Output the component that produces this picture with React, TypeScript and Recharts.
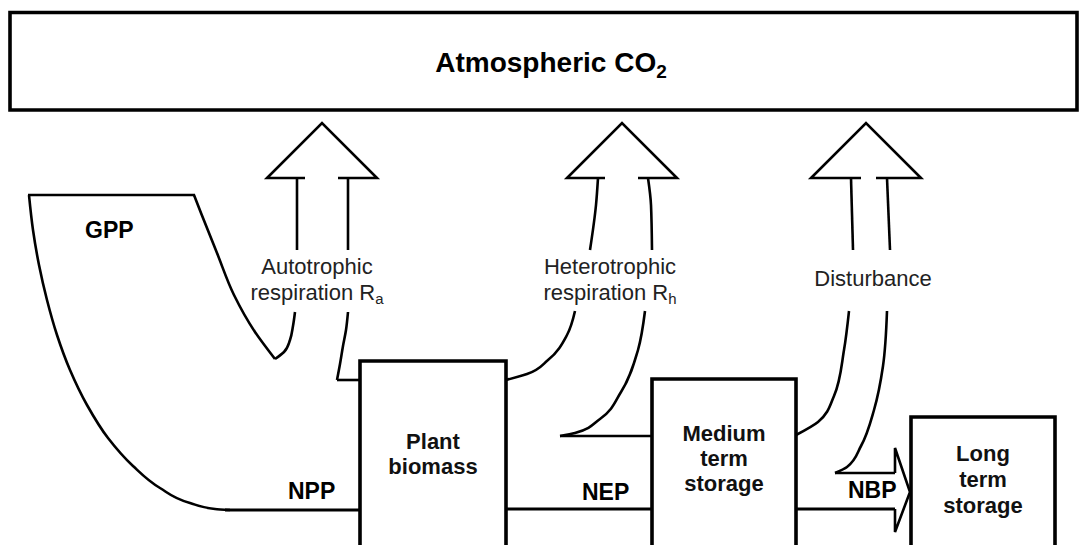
import React from 'react';
import { ComposedChart, XAxis, YAxis, Line, Scatter, ReferenceArea } from 'recharts';

const W = 1081;
const H = 545;
const FONT = "'Liberation Sans', Arial, Helvetica, sans-serif";

// ---- Boxes (diagram units = pixels of the original figure) ----
const boxes = [
  { id: 'atm', x1: 10, x2: 1077, y1: 12.5, y2: 110 },
  { id: 'plant', x1: 360, x2: 506, y1: 361, y2: 556 },
  { id: 'medium', x1: 652, x2: 796, y1: 379, y2: 556 },
  { id: 'long', x1: 911, x2: 1055, y1: 417, y2: 556 },
];

// ---- Straight paths ----
const gppTop = [{ x: 28, y: 195 }, { x: 195, y: 195 }];
const nppLine = [{ x: 225, y: 510 }, { x: 360, y: 510 }];
const nepLine = [{ x: 506, y: 509 }, { x: 652, y: 509 }];
const raFoot = [{ x: 337, y: 380 }, { x: 360, y: 380 }];
const rhFoot = [{ x: 560, y: 436 }, { x: 652, y: 436 }];
const nbpUpper = [{ x: 835, y: 473 }, { x: 895, y: 473 }];
const nbpLower = [{ x: 796, y: 509 }, { x: 895, y: 509 }];
const nbpHead = [{ x: 895, y: 473 }, { x: 895, y: 448 }, { x: 910, y: 492 }, { x: 895, y: 532 }, { x: 895, y: 509 }];

// ---- Arrow heads (upward, open) ----
const raHead = [{ x: 305, y: 178 }, { x: 267, y: 178 }, { x: 322, y: 123 }, { x: 377, y: 178 }, { x: 338, y: 178 }];
const rhHead = [{ x: 605, y: 178 }, { x: 567, y: 178 }, { x: 622, y: 123 }, { x: 677, y: 178 }, { x: 638, y: 178 }];
const distHead = [{ x: 861, y: 178 }, { x: 811, y: 178 }, { x: 866, y: 123 }, { x: 921, y: 178 }, { x: 876, y: 178 }];

// ---- Upper shafts ----
const raUpL = [{ x: 297, y: 178 }, { x: 297, y: 250 }];
const raUpR = [{ x: 348, y: 178 }, { x: 348, y: 250 }];
const rhUpL = [{ x: 598, y: 178 }, { x: 596, y: 205 }, { x: 590, y: 250 }];
const rhUpR = [{ x: 648, y: 178 }, { x: 651, y: 205 }, { x: 652, y: 250 }];
const distUpL = [{ x: 851, y: 178 }, { x: 853, y: 250 }];
const distUpR = [{ x: 887, y: 178 }, { x: 890, y: 250 }];

// ---- Curved paths (ordered by increasing y) ----
const gppLeft = [
  { x: 29, y: 195 }, { x: 33, y: 230 }, { x: 39, y: 265 }, { x: 47, y: 300 }, { x: 57, y: 335 },
  { x: 70, y: 370 }, { x: 87, y: 405 }, { x: 108, y: 438 }, { x: 133, y: 466 }, { x: 160, y: 488 },
  { x: 190, y: 503 }, { x: 215, y: 509 }, { x: 230, y: 510 },
];
const gppRight = [
  { x: 194, y: 195 }, { x: 201, y: 213 }, { x: 217, y: 253 }, { x: 234, y: 295 }, { x: 255, y: 332 }, { x: 275, y: 359 },
];
const raLowL = [{ x: 295, y: 312 }, { x: 293, y: 326 }, { x: 290, y: 340 }, { x: 284, y: 352 }, { x: 275, y: 359 }];
const raLowR = [{ x: 348, y: 312 }, { x: 346, y: 330 }, { x: 343, y: 346 }, { x: 340, y: 364 }, { x: 337, y: 380 }];
const rhLowL = [{ x: 575, y: 311 }, { x: 567, y: 335 }, { x: 548, y: 360 }, { x: 527, y: 374 }, { x: 506, y: 380 }];
const rhLowR = [
  { x: 645, y: 311 }, { x: 638, y: 350 }, { x: 621, y: 392 }, { x: 600, y: 419 }, { x: 575, y: 433 }, { x: 560, y: 436 },
];
const distLowL = [{ x: 849, y: 311 }, { x: 844, y: 350 }, { x: 834, y: 396 }, { x: 818, y: 422 }, { x: 796, y: 435 }];
const distLowR = [
  { x: 887, y: 311 }, { x: 883, y: 366 }, { x: 874, y: 410 }, { x: 861, y: 446 }, { x: 847, y: 467 }, { x: 835, y: 473 },
];

// ---- Labels ----
const titleLabels = [{ x: 551, y: 72, text: 'Atmospheric CO', sub: '2' }];
const fluxLabels = [
  { x: 85, y: 238, text: 'GPP' },
  { x: 288, y: 499, text: 'NPP' },
  { x: 582, y: 500, text: 'NEP' },
  { x: 848, y: 498, text: 'NBP' },
];
const boxLabels = [
  { x: 433, y: 449, text: 'Plant' },
  { x: 433, y: 474, text: 'biomass' },
  { x: 724, y: 441, text: 'Medium' },
  { x: 724, y: 466, text: 'term' },
  { x: 724, y: 491, text: 'storage' },
  { x: 983, y: 461, text: 'Long' },
  { x: 983, y: 487, text: 'term' },
  { x: 983, y: 513, text: 'storage' },
];
const processLabels = [
  { x: 317, y: 274, text: 'Autotrophic' },
  { x: 317, y: 300, text: 'respiration R', sub: 'a' },
  { x: 610, y: 274, text: 'Heterotrophic' },
  { x: 610, y: 300, text: 'respiration R', sub: 'h' },
  { x: 873, y: 286, text: 'Disturbance' },
];

const straightPaths = [gppTop, raFoot, rhFoot, nbpUpper, nbpHead, raHead, rhHead, distHead, raUpL, raUpR, distUpL, distUpR];
const thickPaths = [nppLine, nepLine, nbpLower];
const curvedPaths = [gppLeft, gppRight, raLowL, raLowR, rhLowL, rhLowR, distLowL, distLowR, rhUpL, rhUpR];

type TextStyle = { size: number; weight: string; anchor: 'start' | 'middle' | 'end'; fill: string };

const makeText = (st: TextStyle) => (props: any) => {
  const { cx, cy, payload } = props;
  if (cx == null || cy == null) return <g />;
  return (
    <text x={cx} y={cy} textAnchor={st.anchor} fontSize={st.size} fontWeight={st.weight} fontFamily={FONT} fill={st.fill}>
      {payload.text}
      {payload.sub ? (
        <tspan fontSize={st.size * 0.68} dy={st.size * 0.2}>
          {payload.sub}
        </tspan>
      ) : null}
    </text>
  );
};

export default function App() {
  return (
    <div style={{ position: 'absolute', left: 0, top: 0, width: W, height: H, background: '#fff' }}>
      <ComposedChart width={W} height={H} margin={{ top: 0, right: 0, bottom: 0, left: 0 }}>
        <XAxis type="number" dataKey="x" domain={[0, W]} hide allowDataOverflow />
        <YAxis type="number" dataKey="y" domain={[0, H]} reversed hide allowDataOverflow />
        {boxes.map((b) => (
          <ReferenceArea
            key={b.id}
            x1={b.x1}
            x2={b.x2}
            y1={b.y1}
            y2={b.y2}
            ifOverflow="visible"
            fill="#fff"
            fillOpacity={1}
            stroke="#000"
            strokeWidth={3.6}
          />
        ))}
        {straightPaths.map((d, i) => (
          <Line
            key={'s' + i}
            data={d}
            dataKey="y"
            type="linear"
            stroke="#000"
            strokeWidth={2.6}
            dot={false}
            activeDot={false}
            isAnimationActive={false}
            strokeLinejoin="miter"
          />
        ))}
        {thickPaths.map((d, i) => (
          <Line
            key={'t' + i}
            data={d}
            dataKey="y"
            type="linear"
            stroke="#000"
            strokeWidth={3.2}
            dot={false}
            activeDot={false}
            isAnimationActive={false}
          />
        ))}
        {curvedPaths.map((d, i) => (
          <Line
            key={'c' + i}
            data={d}
            dataKey="y"
            type="monotoneY"
            stroke="#000"
            strokeWidth={2.6}
            dot={false}
            activeDot={false}
            isAnimationActive={false}
          />
        ))}
        <Scatter data={titleLabels} dataKey="y" isAnimationActive={false}
          shape={makeText({ size: 28, weight: 'bold', anchor: 'middle', fill: '#000' })} />
        <Scatter data={fluxLabels} dataKey="y" isAnimationActive={false}
          shape={makeText({ size: 23, weight: 'bold', anchor: 'start', fill: '#000' })} />
        <Scatter data={boxLabels} dataKey="y" isAnimationActive={false}
          shape={makeText({ size: 22, weight: 'bold', anchor: 'middle', fill: '#111' })} />
        <Scatter data={processLabels} dataKey="y" isAnimationActive={false}
          shape={makeText({ size: 22, weight: 'normal', anchor: 'middle', fill: '#222' })} />
      </ComposedChart>
    </div>
  );
}
